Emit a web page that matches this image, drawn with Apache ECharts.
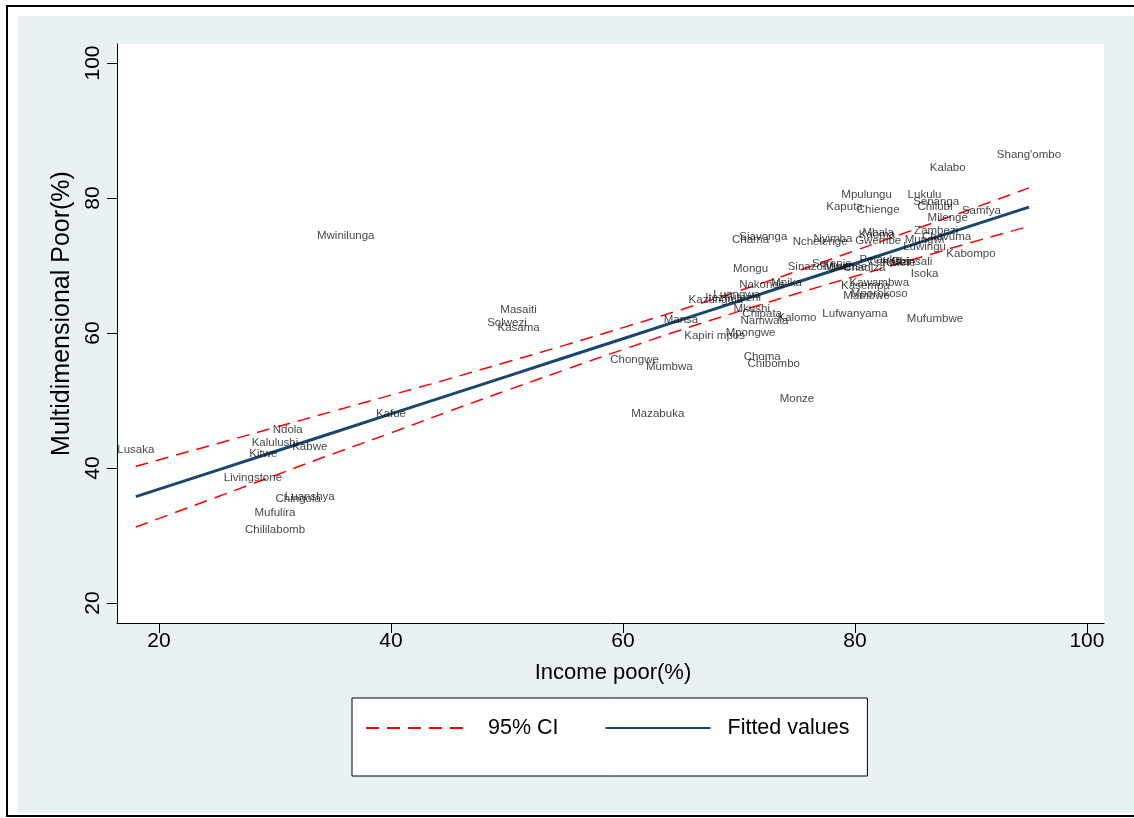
<!DOCTYPE html>
<html>
<head>
<meta charset="utf-8">
<script src="https://cdn.jsdelivr.net/npm/echarts@6/dist/echarts.min.js"></script>
<style>
  html, body { margin: 0; padding: 0; background: #ffffff; }
  #frame { position: absolute; left: 6px; top: 5px; width: 1140px; height: 808px; border: 2px solid #000; background: #fff; }
  #bg { position: absolute; left: 18px; top: 16px; width: 1116px; height: 797px; background: #e9f1f3; }
  #chart { position: absolute; left: 0; top: 0; width: 1134px; height: 818px; }
</style>
</head>
<body>
<div id="frame"></div>
<div id="bg"></div>
<div id="chart"></div>
<script>
// District labels (as printed, truncated to 11 characters in the source)
const districts = [
  "Shang'ombo","Kalabo","Mpulungu","Lukulu","Senanga","Chilubi","Kaputa","Chienge","Samfya","Milenge",
  "Siavonga","Chama","Nchelenge","Nyimba","Mbala","Kaoma","Gwembe","Zambezi","Chavuma","Mungwi",
  "Luwingu","Kabompo","Mongu","Sinazongwe","Serenje","Mwense","Chadiza","Petauke","Lundazi","Katete",
  "Chinsali","Isoka","Nakonde","Mpika","Kawambwa","Kasempa","Mporokoso","Mambwe","Kazungula","Luangwa",
  "Itezhi-tezhi","Mkushi","Chipata","Kalomo","Namwala","Lufwanyama","Mufumbwe","Mansa","Kapiri mpos","Mpongwe",
  "Choma","Chibombo","Mumbwa","Monze","Masaiti","Solwezi","Kasama","Chongwe","Mazabuka","Lusaka",
  "Ndola","Kalulushi","Kabwe","Kitwe","Livingstone","Luanshya","Chingola","Mufulira","Chililabomb","Kafue",
  "Mwinilunga"
];
// Income poor (%)
const incomePoor = [
  95.0, 88.0, 81.0, 86.0, 87.0, 86.9, 79.1, 82.0, 90.9, 88.0,
  72.1, 71.0, 77.0, 78.1, 82.0, 81.9, 82.0, 87.0, 87.9, 86.0,
  86.0, 90.0, 71.0, 76.9, 78.0, 79.2, 80.8, 82.2, 83.0, 83.8,
  84.9, 86.0, 72.0, 74.1, 82.1, 80.9, 82.1, 81.0, 68.0, 69.8,
  69.5, 71.1, 72.0, 75.0, 72.2, 80.0, 86.9, 65.0, 67.9, 71.0,
  72.0, 73.0, 64.0, 75.0, 51.0, 50.0, 51.0, 61.0, 63.0, 18.0,
  31.1, 30.0, 33.0, 29.0, 28.1, 33.0, 32.0, 30.0, 30.0, 40.0,
  36.1
];
// Multidimensional poor (%)
const multiPoor = [
  86.4, 84.5, 80.4, 80.4, 79.4, 78.7, 78.7, 78.3, 78.1, 77.0,
  74.2, 73.8, 73.5, 73.9, 74.9, 74.6, 73.7, 75.1, 74.3, 73.8,
  72.7, 71.7, 69.5, 69.8, 70.3, 69.8, 69.6, 70.9, 70.5, 70.4,
  70.5, 68.8, 67.1, 67.4, 67.4, 67.0, 65.8, 65.5, 64.9, 65.6,
  65.2, 63.6, 62.8, 62.3, 61.8, 62.9, 62.1, 62.0, 59.6, 60.0,
  56.4, 55.5, 55.0, 50.2, 63.4, 61.5, 60.8, 56.0, 48.0, 42.7,
  45.6, 43.7, 43.1, 42.1, 38.6, 35.7, 35.4, 33.4, 30.8, 48.0,
  74.4
];
// Fitted line and 95% CI
const fitX    = [18, 25, 30, 35, 40, 45, 50, 55, 60, 65, 70, 75, 80, 85, 90, 95];
const fitY    = [35.75, 39.65, 42.44, 45.22, 48.01, 50.80, 53.58, 56.37, 59.15, 61.94, 64.72, 67.51, 70.29, 73.08, 75.86, 78.65];
const ciUpper = [40.25, 43.6, 46.0, 48.4, 50.8, 53.2, 55.7, 58.2, 60.8, 63.45, 66.25, 69.15, 72.2, 75.25, 78.35, 81.5];
const ciLower = [31.25, 35.7, 38.9, 42.1, 45.2, 48.4, 51.5, 54.55, 57.55, 60.45, 63.2, 65.85, 68.4, 70.9, 73.4, 75.8];
const xTicks = [20, 40, 60, 80, 100];
const yTicks = [20, 40, 60, 80, 100];

const pairs = (xs, ys) => xs.map((x, i) => [x, ys[i]]);
const pts = districts.map((n, i) => ({ name: n, value: [incomePoor[i], multiPoor[i]] }));

const FONT = "'Liberation Sans', Arial, Helvetica, sans-serif";
const chart = echarts.init(document.getElementById('chart'), null, { renderer: 'canvas' });
chart.setOption({
  backgroundColor: 'transparent',
  animation: false,
  textStyle: { fontFamily: FONT },
  grid: { left: 117, top: 44, width: 987, height: 579, show: true, backgroundColor: '#ffffff', borderWidth: 0 },
  xAxis: {
    type: 'value', min: 16.38, max: 101.47,
    name: 'Income poor(%)', nameLocation: 'middle', nameGap: 39,
    nameTextStyle: { fontSize: 22, color: '#000', fontFamily: FONT, padding: [0, 0, 0, 5] },
    axisLine: { show: true, onZero: false, lineStyle: { color: '#000', width: 1 } },
    axisTick: { show: true, length: 10, lineStyle: { color: '#000' }, customValues: xTicks },
    axisLabel: { fontSize: 21, color: '#000', margin: 8, customValues: xTicks, fontFamily: FONT },
    splitLine: { show: false }
  },
  yAxis: {
    type: 'value', min: 17.04, max: 102.81,
    name: 'Multidimensional Poor(%)', nameLocation: 'middle', nameGap: 41,
    nameTextStyle: { fontSize: 25, color: '#000', fontFamily: FONT, padding: [0, 0, 0, 40] },
    axisLine: { show: true, onZero: false, lineStyle: { color: '#000', width: 1 } },
    axisTick: { show: true, length: 10, lineStyle: { color: '#000' }, customValues: yTicks },
    axisLabel: { fontSize: 21, color: '#000', margin: 13, rotate: 90, customValues: yTicks, fontFamily: FONT },
    splitLine: { show: false }
  },
  legend: {
    left: 352, top: 698,
    data: ['95% CI', 'Fitted values'],
    itemWidth: 105, itemHeight: 14, itemGap: 46,
    padding: [19, 18, 37, 13],
    backgroundColor: '#ffffff', borderColor: '#000', borderWidth: 1, borderRadius: 0,
    itemStyle: { opacity: 0 },
    textStyle: { fontSize: 21.5, color: '#000', fontFamily: FONT, padding: [0, 0, 0, 12] },
    selectedMode: false
  },
  series: [
    {
      name: '95% CI', type: 'line', data: pairs(fitX, ciUpper), symbol: 'none', smooth: true,
      lineStyle: { color: '#ff0000', width: 1.5, type: [13, 8] }, itemStyle: { color: '#ff0000' }, z: 3
    },
    {
      name: '95% CI', type: 'line', data: pairs(fitX, ciLower), symbol: 'none', smooth: true,
      lineStyle: { color: '#ff0000', width: 1.5, type: [13, 8] }, itemStyle: { color: '#ff0000' }, z: 3
    },
    {
      name: 'Fitted values', type: 'line', data: pairs(fitX, fitY), symbol: 'none',
      lineStyle: { color: '#1a476f', width: 3 }, itemStyle: { color: '#1a476f' }, z: 4
    },
    {
      name: 'Districts', type: 'scatter', data: pts, symbolSize: 1,
      itemStyle: { color: 'rgba(0,0,0,0)' },
      label: { show: true, position: 'inside', formatter: '{b}', fontSize: 11.5, color: '#111', fontFamily: FONT },
      z: 5
    }
  ]
});
</script>
</body>
</html>
